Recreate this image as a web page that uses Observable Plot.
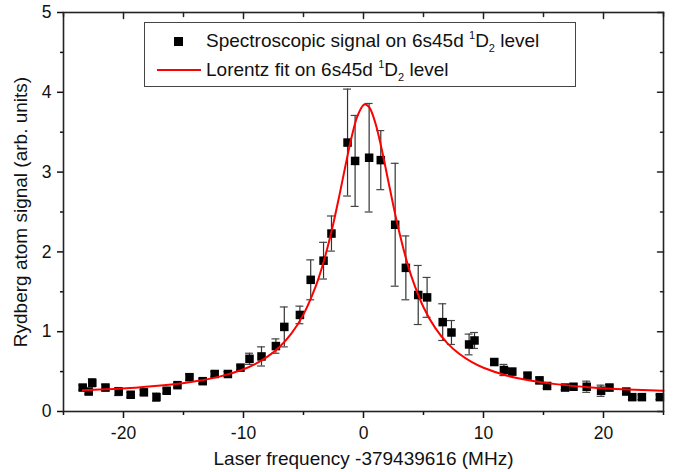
<!DOCTYPE html>
<html>
<head>
<meta charset="utf-8">
<script src="https://cdn.jsdelivr.net/npm/d3@7"></script>
<script src="https://cdn.jsdelivr.net/npm/@observablehq/plot@0.6"></script>
<style>
  body { margin: 0; background: #fff; }
  #wrap { position: relative; width: 677px; height: 472px; font-family: "Liberation Sans", Arial, sans-serif; }
  #legend { position: absolute; left: 144px; top: 22px; width: 432px; height: 65px; border: 1px solid #444; background: #fff; box-sizing: border-box; font-size: 19px; color: #111; }
  .row { position: absolute; left: 0; height: 22px; line-height: 22px; white-space: nowrap; }
  .row svg { position: absolute; left: 0; top: 0; }
  .row span { position: absolute; left: 61px; top: 0; }
  sup, sub { font-size: 11px; line-height: 0; position: relative; vertical-align: baseline; }
  sup { top: -0.75em; }
  sub { top: 0.45em; }
</style>
</head>
<body>
<div id="wrap">
  <div id="chart"></div>
  <div id="legend">
    <div class="row" style="top:7px;">
      <svg width="60" height="22"><rect x="29" y="7" width="9" height="9" fill="#000"></rect></svg>
      <span>Spectroscopic signal on 6s45d <sup>1</sup>D<sub>2</sub> level</span>
    </div>
    <div class="row" style="top:36px;">
      <svg width="60" height="22"><line x1="12" y1="11" x2="56" y2="11" stroke="#ff0000" stroke-width="2"></line></svg>
      <span>Lorentz fit on 6s45d <sup>1</sup>D<sub>2</sub> level</span>
    </div>
  </div>
</div>
<script>
// Measured data points (frequency offset in MHz, signal, error)
const freq = [-23.4, -22.9, -22.6, -21.5, -20.4, -19.4, -18.3, -17.25, -16.4, -15.5,
  -14.5, -13.4, -12.4, -11.3, -10.25, -9.5, -8.5, -7.3, -6.6, -5.3,
  -4.4, -3.33, -2.67, -1.33, -0.7, 0.47, 1.44, 2.64, 3.53, 4.56,
  5.3, 6.6, 7.33, 8.8, 9.25, 10.9, 11.7, 12.4, 13.67, 14.67,
  15.3, 16.8, 17.5, 18.6, 19.8, 20.5, 21.9, 22.4, 23.2, 24.7];
const signal = [0.30, 0.25, 0.36, 0.30, 0.25, 0.21, 0.24, 0.18, 0.26, 0.33,
  0.43, 0.38, 0.47, 0.47, 0.55, 0.66, 0.69, 0.82, 1.06, 1.21,
  1.65, 1.89, 2.23, 3.37, 3.14, 3.18, 3.15, 2.34, 1.80, 1.46,
  1.43, 1.12, 0.99, 0.84, 0.89, 0.62, 0.52, 0.50, 0.45, 0.39,
  0.32, 0.30, 0.31, 0.31, 0.26, 0.30, 0.25, 0.18, 0.18, 0.18];
const errors = [0.03, 0.03, 0.05, 0.04, 0.05, 0.03, 0.03, 0.05, 0.03, 0.03,
  0.04, 0.03, 0.03, 0.03, 0.03, 0.07, 0.12, 0.09, 0.25, 0.11,
  0.25, 0.23, 0.22, 0.67, 0.57, 0.68, 0.37, 0.77, 0.40, 0.37,
  0.25, 0.23, 0.15, 0.13, 0.10, 0.03, 0.07, 0.04, 0.03, 0.04,
  0.03, 0.03, 0.03, 0.07, 0.07, 0.04, 0.03, 0.03, 0.03, 0.03];

// Lorentz fit curve
const fitFreq = [-23.4, -22, -19, -16, -14, -12, -10, -9, -8, -7, -6, -5, -4, -3.5, -3, -2.5, -2, -1.5, -1, -0.5,
  0, 0.15, 0.5, 1, 1.5, 2, 2.5, 3, 3.5, 4, 5, 6, 7, 8, 9, 10, 12, 14, 16, 19, 22, 25];
const fitSignal = [0.266, 0.275, 0.299, 0.338, 0.378, 0.437, 0.53, 0.598, 0.688, 0.809, 0.978, 1.217, 1.561, 1.786, 2.054, 2.365, 2.715, 3.083, 3.433, 3.705,
  3.842, 3.85, 3.807, 3.609, 3.298, 2.936, 2.571, 2.236, 1.941, 1.691, 1.307, 1.041, 0.854, 0.72, 0.622, 0.548, 0.448, 0.385, 0.343, 0.302, 0.277, 0.26];

// Axis ticks
const xTicks = [-20, -10, 0, 10, 20];
const xMinor = [-25, -15, -5, 5, 15, 25];
const yTicks = [0, 1, 2, 3, 4, 5];
const yMinor = [0.5, 1.5, 2.5, 3.5, 4.5];

const points = freq.map((x, i) => ({x, y: signal[i], e: errors[i]}));
const fit = fitFreq.map((x, i) => ({x, y: fitSignal[i]}));

const tickShape = { draw(context, l) { context.moveTo(0, 0); context.lineTo(0, -l); } };
const fmt = d => String(d);

const chart = Plot.plot({
  width: 677,
  height: 472,
  marginLeft: 63,
  marginRight: 14,
  marginTop: 12,
  marginBottom: 61,
  style: { fontFamily: "'Liberation Sans', Arial, sans-serif", fontSize: "17px", color: "#111", background: "#fff" },
  x: { domain: [-25, 25], label: null },
  y: { domain: [0, 5], label: null },
  marks: [
    // bottom axis
    Plot.axisX(xTicks, { anchor: "bottom", tickSize: 7, tickPadding: 8, tickFormat: fmt, label: null, strokeWidth: 1.5, fontSize: 17.5 }),
    Plot.axisX(xMinor, { anchor: "bottom", tickSize: 4, tickFormat: () => "", label: null, strokeWidth: 1.5 }),
    // left axis
    Plot.axisY(yTicks, { anchor: "left", tickSize: 6, tickPadding: 6, tickFormat: fmt, label: null, strokeWidth: 1.5, fontSize: 17.5 }),
    Plot.axisY(yMinor, { anchor: "left", tickSize: 3, tickFormat: () => "", label: null, strokeWidth: 1.5 }),
    // top inward ticks
    Plot.vector(xTicks, { x: d => d, frameAnchor: "top", length: 6, rotate: 180, anchor: "start", shape: tickShape, stroke: "#222", strokeWidth: 1.5 }),
    Plot.vector(xMinor, { x: d => d, frameAnchor: "top", length: 4, rotate: 180, anchor: "start", shape: tickShape, stroke: "#222", strokeWidth: 1.5 }),
    // right inward ticks
    Plot.vector(yTicks, { y: d => d, frameAnchor: "right", length: 6, rotate: -90, anchor: "start", shape: tickShape, stroke: "#222", strokeWidth: 1.5 }),
    Plot.vector(yMinor, { y: d => d, frameAnchor: "right", length: 3, rotate: -90, anchor: "start", shape: tickShape, stroke: "#222", strokeWidth: 1.5 }),
    // error bars
    Plot.ruleX(points, { x: "x", y1: d => d.y - d.e, y2: d => d.y + d.e, stroke: "#333", strokeWidth: 1.2 }),
    Plot.ruleY(points, { y: d => d.y + d.e, x1: d => d.x - 0.33, x2: d => d.x + 0.33, stroke: "#444", strokeWidth: 1.2 }),
    Plot.ruleY(points, { y: d => d.y - d.e, x1: d => d.x - 0.33, x2: d => d.x + 0.33, stroke: "#444", strokeWidth: 1.2 }),
    // data squares
    Plot.dot(points, { x: "x", y: "y", symbol: "square", r: 4.8, fill: "#000", stroke: "none" }),
    // fit line
    Plot.line(fit, { x: "x", y: "y", stroke: "#ff0000", strokeWidth: 2, curve: "catmull-rom" }),
    // frame
    Plot.frame({ stroke: "#222", strokeWidth: 1.6 }),
    // axis titles
    Plot.text(["Laser frequency -379439616 (MHz)"], { frameAnchor: "bottom", dy: 53, fontSize: 19, fill: "#111" }),
    Plot.text(["Rydberg atom signal (arb. units)"], { frameAnchor: "left", dx: -43, rotate: -90, textAnchor: "middle", fontSize: 19, fill: "#111" })
  ]
});
document.getElementById("chart").appendChild(chart);
</script>
</body>
</html>
